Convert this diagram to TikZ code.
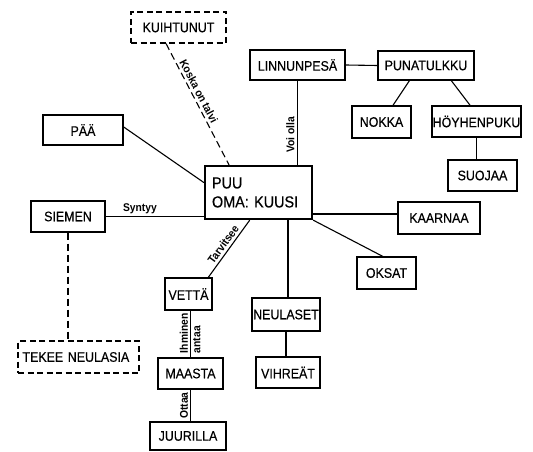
\documentclass[tikz,border=0pt]{standalone}
\usepackage{fontspec}
\usetikzlibrary{calc}
\newfontfamily\boxfont[FakeStretch=0.9, FakeBold=0.4]{Liberation Sans}
\newfontfamily\lblfont[FakeStretch=0.92]{Liberation Sans}

\begin{document}
\begin{tikzpicture}[x=1pt, y=-1pt,
  box/.style={draw, line width=1.1pt, inner sep=0pt, align=center,
    font=\boxfont\fontsize{13.8}{15}\selectfont},
  dbox/.style={box, dash pattern=on 6pt off 3.5pt},
  puubox/.style={box, line width=2.2pt, align=left, inner xsep=7pt,
    text width=93pt, minimum height=53pt,
    font=\boxfont\fontsize{16}{19}\selectfont},
  link/.style={line width=1.1pt},
  dlink/.style={link, dash pattern=on 7pt off 4pt},
  lbl/.style={font=\lblfont\bfseries\fontsize{11.2}{12}\selectfont, inner sep=2.5pt}]

  % page frame
  \fill[white] (0,0) rectangle (533,452);
  \useasboundingbox (0,0) rectangle (533,452);

  % concepts
  \node[puubox] (puu) at (258.5,192.5) {PUU\\OMA: KUUSI};
  \node[dbox, minimum width=95pt, minimum height=31pt] (kuih) at (178.5,27.5) {KUIHTUNUT};
  \node[box, minimum width=95pt, minimum height=30pt] (linn) at (297.5,65) {LINNUNPESÄ};
  \node[box, minimum width=96pt, minimum height=29pt] (puna) at (426,65.5) {PUNATULKKU};
  \node[box, minimum width=59pt, minimum height=32pt] (nokka) at (381.5,122) {NOKKA};
  \node[box, minimum width=89pt, minimum height=31pt] (hoyh) at (476.5,121.5) {HÖYHENPUKU};
  \node[box, minimum width=69pt, minimum height=31pt] (suoj) at (482.5,175.5) {SUOJAA};
  \node[box, minimum width=80pt, minimum height=30pt] (paa) at (83,130) {PÄÄ};
  \node[box, minimum width=74pt, minimum height=31pt] (siemen) at (68,216.5) {SIEMEN};
  \node[box, minimum width=82pt, minimum height=32pt] (kaarnaa) at (439,218) {KAARNAA};
  \node[box, minimum width=59pt, minimum height=32pt] (oksat) at (386.5,273) {OKSAT};
  \node[box, minimum width=47pt, minimum height=32pt] (vetta) at (188.5,294) {VETTÄ};
  \node[box, minimum width=68pt, minimum height=33pt] (neul) at (286,314.5) {NEULASET};
  \node[dbox, text width=112pt, align=left, inner xsep=4.5pt, minimum height=32pt] (tekee) at (78.5,357) {TEKEE NEULASIA};
  \node[box, minimum width=65pt, minimum height=31pt] (maasta) at (190.5,373.5) {MAASTA};
  \node[box, minimum width=64pt, minimum height=31pt] (vihr) at (288,372.5) {VIHREÄT};
  \node[box, minimum width=76pt, minimum height=28pt] (juur) at (188,436) {JUURILLA};

  % attachment points on the box sides
  \coordinate (kp) at ($(kuih.south west)!0.37!(kuih.south east)$);
  \coordinate (pk1) at ($(puu.north west)!0.23!(puu.north east)$);
  \coordinate (hs) at ($(hoyh.south west)!0.5!(hoyh.south east)$);
  \coordinate (pv) at ($(puu.south west)!0.42!(puu.south east)$);
  \coordinate (vp) at ($(vetta.north west)!0.91!(vetta.north east)$);
  \coordinate (pn) at ($(puu.south west)!0.77!(puu.south east)$);
  \coordinate (pka) at ($(puu.north east)!0.89!(puu.south east)$);
  \coordinate (pw) at ($(puu.north west)!0.32!(puu.south west)$);
  \coordinate (pe) at ($(paa.north east)!0.4!(paa.south east)$);

  % links
  \draw[dlink] (kp) -- node[lbl, sloped, above, pos=0.42] {Koska on talvi} (pk1);
  \draw[link] (linn.south |- puu.north) -- node[lbl, sloped, above, pos=0.36] {Voi olla} (linn.south);
  \draw[link] (linn.east) -- (puna.west);
  \draw[link] ($(puna.south west)!0.33!(puna.south east)$) -- ($(nokka.north west)!0.69!(nokka.north east)$);
  \draw[link] ($(puna.south west)!0.76!(puna.south east)$) -- ($(hoyh.north west)!0.43!(hoyh.north east)$);
  \draw[link] (hs) -- (hs |- suoj.north);
  \draw[link] (pe) -- (pw);
  \draw[link] (siemen.east) -- node[lbl, above, pos=0.35, inner sep=2pt] {Syntyy} (siemen.east -| puu.west);
  \draw[dlink] (siemen.south) -- (siemen.south |- tekee.north);
  \draw[link] (vp) -- node[lbl, sloped, above] {Tarvitsee} (pv);
  \draw[link] (pn) -- (pn |- neul.north);
  \draw[link] (neul.south) -- (neul.south |- vihr.north);
  \draw[link] (pka) -- (pka -| kaarnaa.west);
  \draw[link] (puu.south east) -- ($(oksat.north west)!0.44!(oksat.north east)$);
  \draw[link] (maasta.north) --
    node[lbl, sloped, anchor=south west, pos=0.04, inner sep=2pt] {Ihminen}
    node[lbl, sloped, anchor=north west, pos=0.04, inner sep=2pt] {antaa}
    (maasta.north |- vetta.south);
  \draw[link] (maasta.south |- juur.north) -- node[lbl, sloped, above, inner sep=2pt] {Ottaa} (maasta.south);
\end{tikzpicture}
\end{document}
